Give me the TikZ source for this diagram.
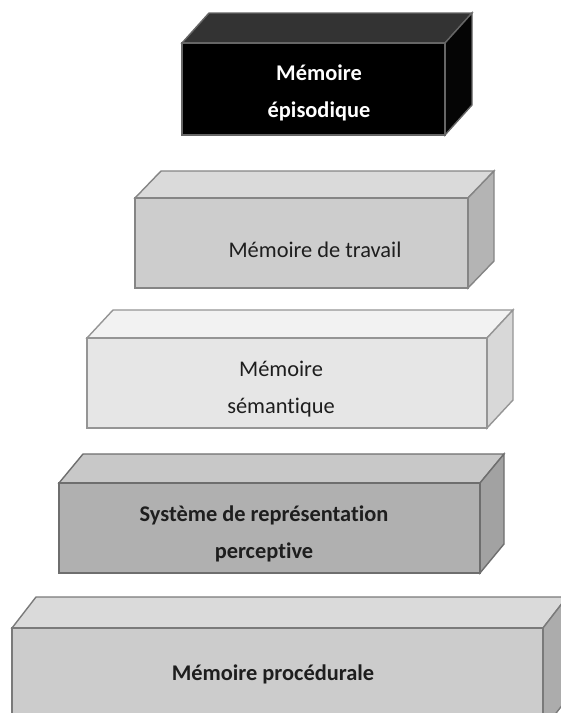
\documentclass[tikz,border=0pt]{standalone}
\usepackage{fontspec}
\setmainfont{Carlito}[Ligatures=NoCommon]
\newcommand{\drawcuboid}[9]{%
  \filldraw[fill=#8] (#1,#2) -- (#1+#5,#2-#6) -- (#3+#5,#2-#6) -- (#3,#2) -- cycle;
  \filldraw[fill=#9] (#3,#2) -- (#3+#5,#2-#6) -- (#3+#5,#4-#6) -- (#3,#4) -- cycle;
  \filldraw[fill=#7] (#1,#2) rectangle (#3,#4);
}
\definecolor{fEpi}{HTML}{000000}\definecolor{tEpi}{HTML}{333333}\definecolor{sEpi}{HTML}{050505}\definecolor{eEpi}{HTML}{666666}
\definecolor{fTra}{HTML}{CDCDCD}\definecolor{tTra}{HTML}{DADADA}\definecolor{sTra}{HTML}{B4B4B4}\definecolor{eTra}{HTML}{858585}
\definecolor{fSem}{HTML}{E6E6E6}\definecolor{tSem}{HTML}{F2F2F2}\definecolor{sSem}{HTML}{D8D8D8}\definecolor{eSem}{HTML}{959595}
\definecolor{fPer}{HTML}{B0B0B0}\definecolor{tPer}{HTML}{C8C8C8}\definecolor{sPer}{HTML}{A2A2A2}\definecolor{ePer}{HTML}{6E6E6E}
\definecolor{fPro}{HTML}{CCCCCC}\definecolor{tPro}{HTML}{DADADA}\definecolor{sPro}{HTML}{ACACAC}\definecolor{ePro}{HTML}{7A7A7A}
\definecolor{txt}{HTML}{1E1E1E}
\begin{document}
\begin{tikzpicture}[x=1pt,y=-1pt,line width=1.4pt,line join=miter,
  lbl/.style={align=center,inner sep=0pt,font=\fontsize{22.4}{37}\selectfont,text=txt},
  lblb/.style={lbl,font=\fontsize{22.4}{37}\selectfont\bfseries}]
\useasboundingbox (0,0) rectangle (561,713);
\fill[white] (0,0) rectangle (561,713);
\clip (0,0) rectangle (561,713);
\begin{scope}[draw=eEpi]\drawcuboid{182}{43}{445}{135}{27}{30}{fEpi}{tEpi}{sEpi}\end{scope}
\begin{scope}[draw=eTra]\drawcuboid{135}{198}{468}{288}{26}{27}{fTra}{tTra}{sTra}\end{scope}
\begin{scope}[draw=eSem]\drawcuboid{87}{338}{487}{428}{26}{28}{fSem}{tSem}{sSem}\end{scope}
\begin{scope}[draw=ePer]\drawcuboid{59}{483}{480}{573}{24}{29}{fPer}{tPer}{sPer}\end{scope}
\begin{scope}[draw=ePro]\drawcuboid{12}{628}{543}{730}{24}{31}{fPro}{tPro}{sPro}\end{scope}
\node[lblb,text=white] (epi) at (319,93) {Mémoire\\épisodique};
\node[lbl] (tra) at (315,250) {Mémoire de travail};
\node[lbl] (sem) at (281,389) {Mémoire\\sémantique};
\node[lblb] (per) at (264,534) {Système de représentation\\perceptive};
\node[lblb] (pro) at (273,674) {Mémoire procédurale};
\end{tikzpicture}
\end{document}
